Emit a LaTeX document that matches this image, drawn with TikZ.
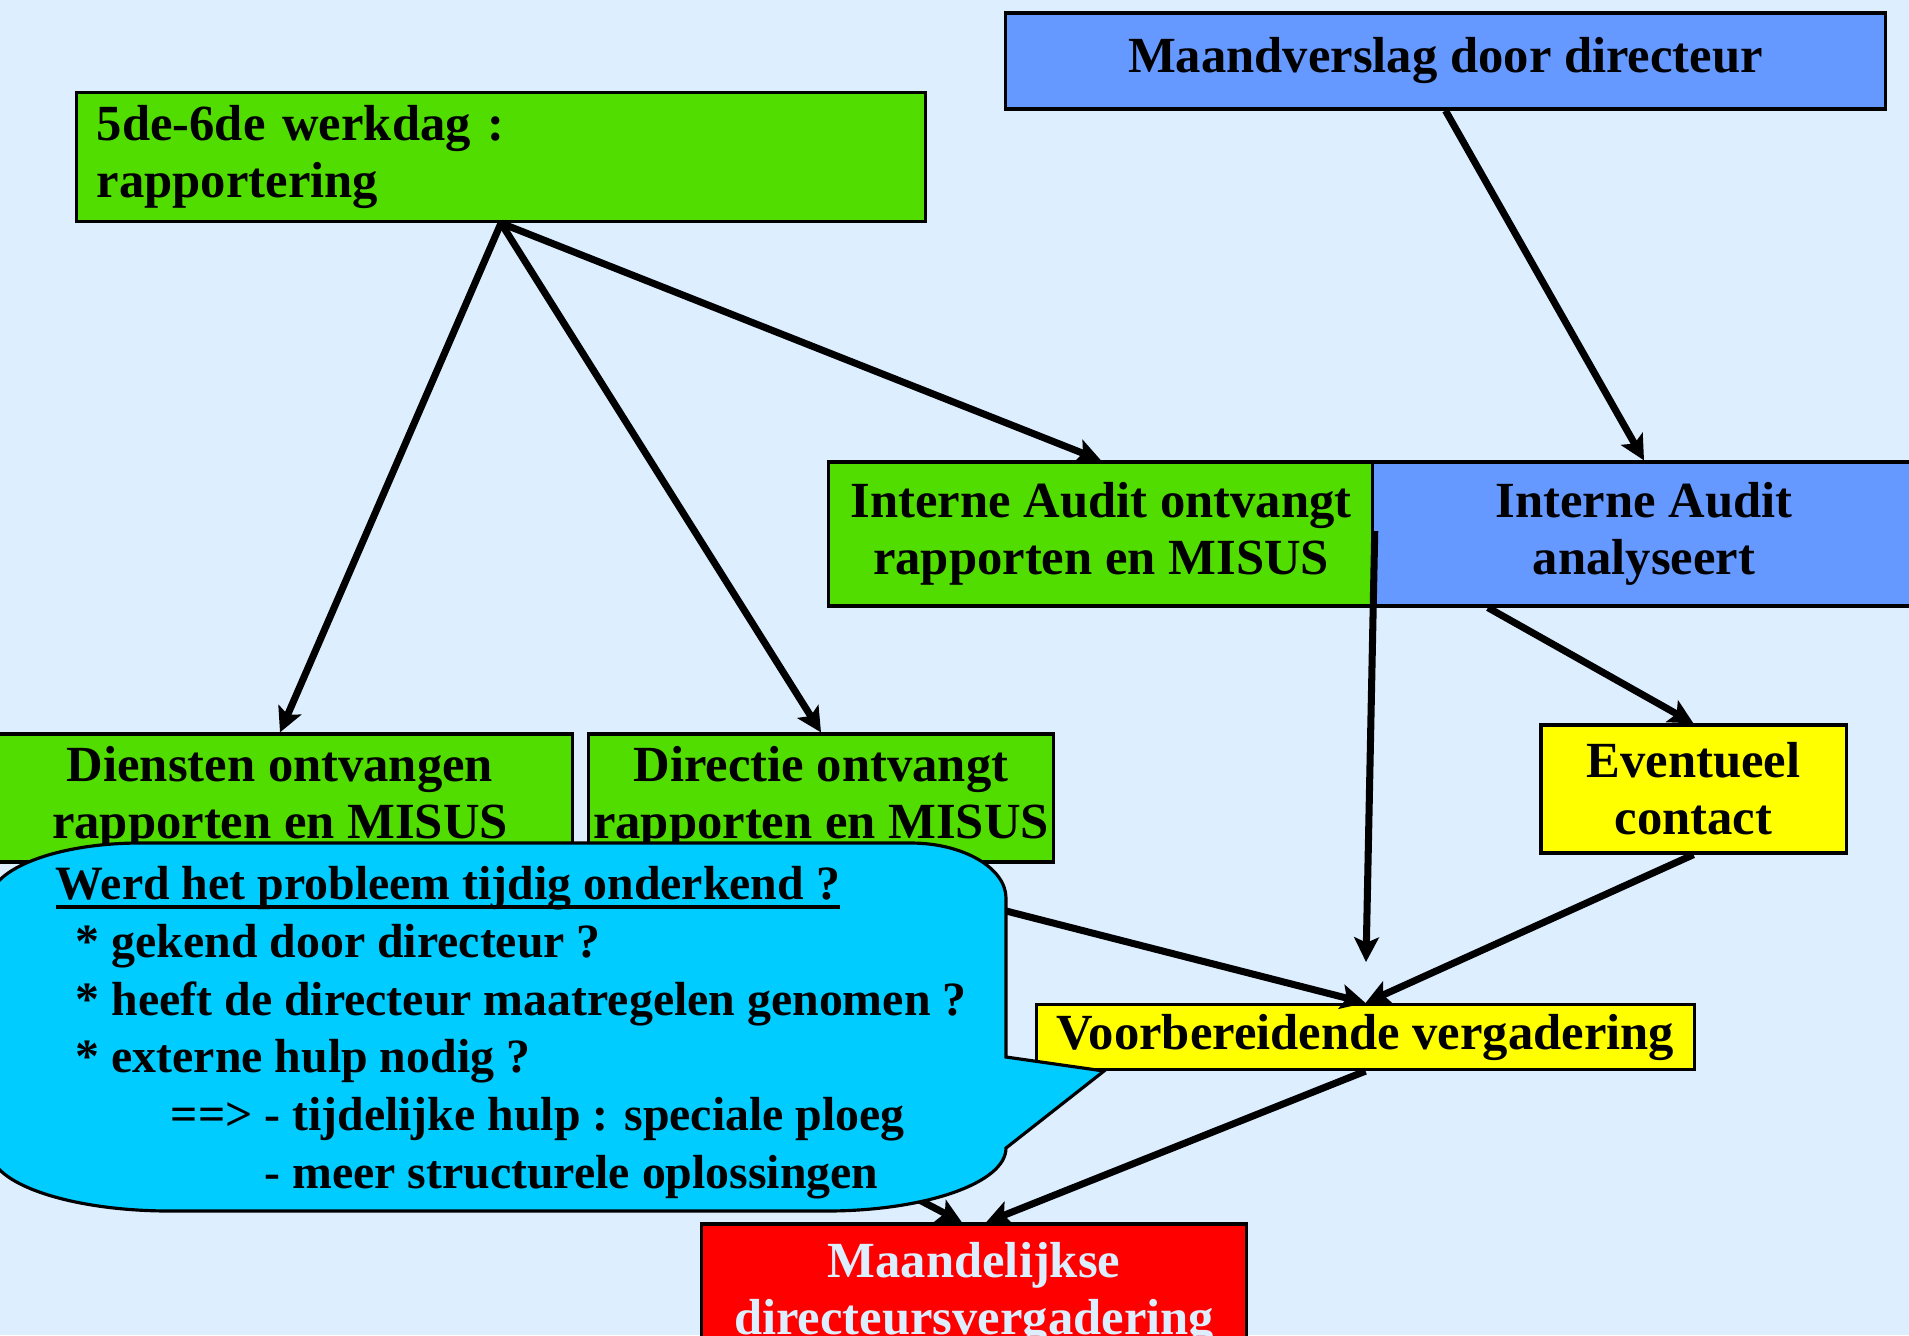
\documentclass[tikz,border=0pt]{standalone}
\usepackage{fontspec}
\setmainfont{Liberation Serif}
\usetikzlibrary{arrows.meta}
\definecolor{bgblue}{HTML}{DDEEFF}
\definecolor{boxgreen}{HTML}{52DD00}
\definecolor{boxblue}{HTML}{6699FF}
\definecolor{boxyellow}{HTML}{FFFF00}
\definecolor{boxred}{HTML}{FF0000}
\definecolor{bubblecyan}{HTML}{00CCFF}
\newcommand{\thickline}[1]{\setbox0\hbox{#1}\rlap{\rule[-2.6pt]{\wd0}{1.1pt}}#1}

\begin{document}
\begin{tikzpicture}[
  x=0.01cm, y=-0.01cm,
  box/.style={rectangle, draw, line width=0.9pt, align=center, inner sep=0pt, font=\fontsize{14.4}{16.2}\selectfont\bfseries},
  arrow/.style={-{Stealth[length=7pt,width=7pt,inset=1.5pt]}, line width=2pt},
  bubble/.style={draw, line width=0.9pt, fill=bubblecyan}
]
  % Background and page frame
  \useasboundingbox (0,0) rectangle (1909,1335);
  \fill[bgblue] (0,0) rectangle (1909,1335);
  \clip (0,0) rectangle (1909,1335);

  % Top row
  \node[box, fill=boxblue, minimum width=8.79cm, minimum height=0.96cm] (verslag) at (1445.5,61) {Maandverslag door directeur};
  \node[box, fill=boxgreen, minimum width=8.48cm, minimum height=1.29cm, text width=8.08cm, align=left] (werkdag) at (501,157) {5de-6de werkdag :\\rapportering};

  % Interne Audit row
  \node[box, fill=boxgreen, minimum width=5.44cm, minimum height=1.44cm] (ontvangt) at (1101,534) {Interne Audit ontvangt\\rapporten en MISUS};
  \node[box, fill=boxblue, minimum width=5.42cm, minimum height=1.44cm] (analyse) at (1644,534) {Interne Audit\\analyseert};

  % Receivers and contact
  \node[box, fill=boxgreen, minimum width=5.84cm, minimum height=1.28cm] (diensten) at (280,798) {Diensten ontvangen\\rapporten en MISUS};
  \node[box, fill=boxgreen, minimum width=4.64cm, minimum height=1.28cm] (directie) at (821,798) {Directie ontvangt\\rapporten en MISUS};
  \node[box, fill=boxyellow, minimum width=3.05cm, minimum height=1.28cm] (contact) at (1693.5,789) {Eventueel\\contact};

  % Meetings
  \node[box, fill=boxyellow, minimum width=6.57cm, minimum height=0.65cm] (voorb) at (1365.5,1037) {Voorbereidende vergadering};
  \node[box, fill=boxred, text=bgblue, minimum width=5.44cm, minimum height=1.40cm] (maandvg) at (974,1294) {Maandelijkse\\directeursvergadering};

  % Arrows
  \coordinate (vend) at (1366,962);
  \draw[arrow] (werkdag.south) -- (diensten.north);
  \draw[arrow] (werkdag.south) -- (directie.north);
  \draw[arrow] (werkdag.south) -- (ontvangt.north);
  \draw[arrow] (verslag.south) -- (analyse.north);
  \draw[arrow] ([xshift=-1.56cm]analyse.south) -- (contact.north);
  \draw[arrow] ([yshift=0.03cm]ontvangt.east) -- (vend);
  \draw[arrow] (directie.south) -- (voorb.north);
  \draw[arrow] (contact.south) -- (voorb.north);
  \draw[arrow] (diensten.south) -- ([xshift=-0.12cm]maandvg.north);
  \draw[arrow] (voorb.south) -- ([xshift=0.12cm]maandvg.north);

  % Callout with questions
  \draw[bubble] (140,843) -- (911,843) .. controls (963,843) and (1006,868) .. (1006,898)
    -- (1006,1057) -- (1104,1071) -- (1006,1148)
    .. controls (1006,1183) and (925,1211) .. (826,1211) -- (170,1211)
    .. controls (71,1211) and (-10,1184) .. (-10,1150) -- (-10,900)
    .. controls (-10,869) and (57,843) .. (140,843) -- cycle;
  \node[anchor=north west, inner sep=0pt, align=left, font=\fontsize{13.6}{16.4}\selectfont\bfseries] (vragen) at (55,866)
    {\thickline{Werd het probleem tijdig onderkend ?}\\
     \hspace*{0.2cm}* gekend door directeur ?\\
     \hspace*{0.2cm}* heeft de directeur maatregelen genomen ?\\
     \hspace*{0.2cm}* externe hulp nodig ?\\
     \hspace*{1.15cm}==> - tijdelijke hulp : speciale ploeg\\
     \hspace*{1.15cm}\phantom{==> }- meer structurele oplossingen};
\end{tikzpicture}
\end{document}
